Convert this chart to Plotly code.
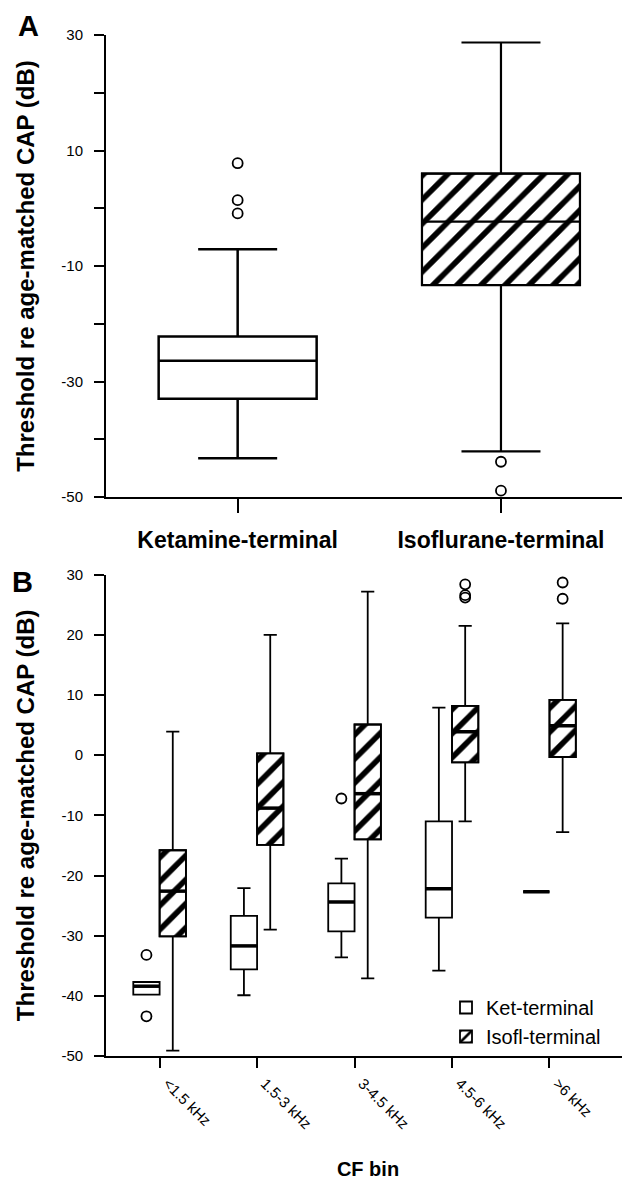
import plotly.graph_objects as go

# ---------------- Panel A data ----------------
groups_A = ["Ketamine-terminal", "Isoflurane-terminal"]
A_lowerfence = [-43.3, -42.1]
A_q1 = [-33.0, -13.3]
A_median = [-26.4, -2.3]
A_q3 = [-22.2, 6.0]
A_upperfence = [-7.1, 28.7]
A_outliers = [[7.8, 1.4, -0.9], [-43.9, -48.9]]
A_major_ticks = [-50, -30, -10, 10, 30]
A_minor_ticks = [-40, -20, 0, 20]

# ---------------- Panel B data ----------------
cf_bins = ["<1.5 kHz", "1.5-3 kHz", "3-4.5 kHz", "4.5-6 kHz", ">6 kHz"]
ket_lowerfence = [-39.8, -39.9, -33.6, -35.8, -22.7]
ket_q1 = [-39.8, -35.6, -29.3, -27.0, -22.7]
ket_median = [-38.4, -31.7, -24.4, -22.2, -22.7]
ket_q3 = [-37.7, -26.7, -21.3, -11.0, -22.7]
ket_upperfence = [-37.7, -22.1, -17.2, 7.9, -22.7]
ket_outliers = [[-33.2, -43.4], [], [-7.2], [], []]

iso_lowerfence = [-49.1, -29.0, -37.1, -11.0, -12.8]
iso_q1 = [-30.1, -14.9, -14.0, -1.2, -0.3]
iso_median = [-22.6, -8.8, -6.4, 3.9, 4.9]
iso_q3 = [-15.8, 0.3, 5.1, 8.2, 9.2]
iso_upperfence = [3.9, 20.0, 27.2, 21.5, 21.9]
iso_outliers = [[], [], [], [28.4, 26.6, 26.2], [28.7, 26.0]]
B_ticks = [-50, -40, -30, -20, -10, 0, 10, 20, 30]

ytitle = "Threshold re age-matched CAP (dB)"
FONT = "Liberation Sans, Arial, sans-serif"

# page offset (default body margin) compensated: figure drawn in 622x1172
OFF = 8
W, H = 630 - OFF, 1180 - OFF


def px_x(p):
    return (p - OFF) / W


def px_y(p):
    return 1 - (p - OFF) / H


# layout geometry
A_W = 0.60          # box width, panel A (category units)
B_W = 0.27          # box width, panel B
B_OFF = 0.135       # half-offset of the two boxes in panel B
hatch = dict(shape="/", fgcolor="black", bgcolor="white", size=17, solidity=0.33)

fig = go.Figure()

# ---- Panel A hatched fill (Isoflurane) ----
fig.add_trace(go.Bar(
    x=[1], base=[A_q1[1]], y=[A_q3[1] - A_q1[1]], width=A_W,
    marker=dict(color="white", pattern=hatch, line=dict(color="black", width=2)),
    showlegend=False, xaxis="x", yaxis="y", hoverinfo="skip"))

# ---- Panel B hatched fill (Isofl) ----
xb_iso = [i + B_OFF for i in range(len(cf_bins))]
xb_ket = [i - B_OFF for i in range(len(cf_bins))]
fig.add_trace(go.Bar(
    x=xb_iso, base=iso_q1, y=[q3 - q1 for q1, q3 in zip(iso_q1, iso_q3)], width=B_W,
    marker=dict(color="white", pattern=hatch, line=dict(color="black", width=1.8)),
    name="Isofl-terminal", legendrank=2, showlegend=True,
    xaxis="x2", yaxis="y2", hoverinfo="skip"))

# ---- Panel A boxes ----
fig.add_trace(go.Box(
    x=[0], q1=[A_q1[0]], median=[A_median[0]], q3=[A_q3[0]],
    lowerfence=[A_lowerfence[0]], upperfence=[A_upperfence[0]],
    width=A_W, whiskerwidth=0.5, boxpoints=False,
    fillcolor="white", line=dict(color="black", width=2.5),
    showlegend=False, xaxis="x", yaxis="y"))
fig.add_trace(go.Box(
    x=[1], q1=[A_q1[1]], median=[A_median[1]], q3=[A_q3[1]],
    lowerfence=[A_lowerfence[1]], upperfence=[A_upperfence[1]],
    width=A_W, whiskerwidth=0.5, boxpoints=False,
    fillcolor="rgba(0,0,0,0)", line=dict(color="black", width=2.2),
    showlegend=False, xaxis="x", yaxis="y"))

# ---- Panel B boxes ----
fig.add_trace(go.Box(
    x=xb_ket, q1=ket_q1, median=ket_median, q3=ket_q3,
    lowerfence=ket_lowerfence, upperfence=ket_upperfence,
    width=B_W, whiskerwidth=0.5, boxpoints=False,
    fillcolor="white", line=dict(color="black", width=1.8),
    name="Ket-terminal", legendrank=1, showlegend=True,
    xaxis="x2", yaxis="y2"))
fig.add_trace(go.Box(
    x=xb_iso, q1=iso_q1, median=iso_median, q3=iso_q3,
    lowerfence=iso_lowerfence, upperfence=iso_upperfence,
    width=B_W, whiskerwidth=0.5, boxpoints=False,
    fillcolor="rgba(0,0,0,0)", line=dict(color="black", width=1.8),
    showlegend=False, xaxis="x2", yaxis="y2"))

# ---- Panel B bold medians ----
mx, my = [], []
for xs, meds in ((xb_ket, ket_median), (xb_iso, iso_median)):
    for xc, m in zip(xs, meds):
        mx += [xc - B_W / 2, xc + B_W / 2, None]
        my += [m, m, None]
fig.add_trace(go.Scatter(x=mx, y=my, mode="lines", line=dict(color="black", width=3.5),
                         showlegend=False, xaxis="x2", yaxis="y2", hoverinfo="skip"))


# ---- Outliers ----
def outlier_xy(positions, outs):
    xs, ys = [], []
    for p, o in zip(positions, outs):
        xs += [p] * len(o)
        ys += list(o)
    return xs, ys


marker_o = dict(symbol="circle-open", size=10, color="black", line=dict(width=1.8, color="black"))
ax, ay = outlier_xy([0, 1], A_outliers)
fig.add_trace(go.Scatter(x=ax, y=ay, mode="markers", marker=marker_o,
                         showlegend=False, xaxis="x", yaxis="y"))
bx1, by1 = outlier_xy(xb_ket, ket_outliers)
bx2, by2 = outlier_xy(xb_iso, iso_outliers)
fig.add_trace(go.Scatter(x=bx1 + bx2, y=by1 + by2, mode="markers", marker=marker_o,
                         showlegend=False, xaxis="x2", yaxis="y2"))

xdom = [px_x(106), 1.0]
axis_common = dict(showline=True, linecolor="black", ticks="outside", tickcolor="black",
                   showgrid=False, zeroline=False, automargin=False, mirror=False)

fig.update_layout(
    width=W, height=H,
    margin=dict(l=0, r=0, t=0, b=0),
    paper_bgcolor="white", plot_bgcolor="white",
    template="none",
    font=dict(family=FONT, color="black"),
    barmode="overlay", boxmode="overlay",
    xaxis=dict(domain=xdom, anchor="y", range=[-0.5, 1.49],
               tickvals=[0, 1], ticktext=groups_A,
               tickfont=dict(size=23, weight="bold"),
               ticklen=14, tickwidth=2, linewidth=2, ticklabelstandoff=7,
               **axis_common),
    yaxis=dict(domain=[px_y(497), px_y(35)], anchor="x", range=[-50, 30],
               tickvals=A_major_ticks, ticktext=[str(v) for v in A_major_ticks],
               tickfont=dict(size=15),
               ticklen=10, tickwidth=2, linewidth=2, ticklabelstandoff=8,
               minor=dict(tickvals=A_minor_ticks, ticks="outside", ticklen=10,
                          tickwidth=2, tickcolor="black", showgrid=False),
               title=dict(text=ytitle, font=dict(size=24, weight="bold"), standoff=20),
               **axis_common),
    xaxis2=dict(domain=xdom, anchor="y2", range=[-0.55, 4.826],
                tickvals=list(range(len(cf_bins))), ticktext=cf_bins, tickangle=45,
                tickfont=dict(size=15), ticklen=10, tickwidth=2, linewidth=1.8,
                ticklabelshift=8, ticklabelstandoff=1,
                title=dict(text="CF bin", font=dict(size=20, weight="bold"), standoff=34),
                **axis_common),
    yaxis2=dict(domain=[px_y(1056), px_y(574.7)], anchor="x2", range=[-50, 30],
                tickvals=B_ticks, ticktext=[str(v) for v in B_ticks],
                tickfont=dict(size=15),
                ticklen=10, tickwidth=1.8, linewidth=1.8, ticklabelstandoff=8,
                title=dict(text=ytitle, font=dict(size=24, weight="bold"), standoff=20),
                **axis_common),
    legend=dict(x=px_x(446), y=px_y(988), xanchor="left", yanchor="top",
                font=dict(size=20), bgcolor="rgba(0,0,0,0)", borderwidth=0,
                tracegroupgap=0, itemclick=False),
    annotations=[
        dict(text="A", x=px_x(28), y=px_y(26), xref="paper", yref="paper",
             xanchor="center", yanchor="middle", borderpad=0,
             showarrow=False, font=dict(size=29, weight="bold")),
        dict(text="B", x=px_x(23), y=px_y(582), xref="paper", yref="paper",
             xanchor="center", yanchor="middle", borderpad=0,
             showarrow=False, font=dict(size=29, weight="bold")),
    ],
)

fig.write_html("out.html")
